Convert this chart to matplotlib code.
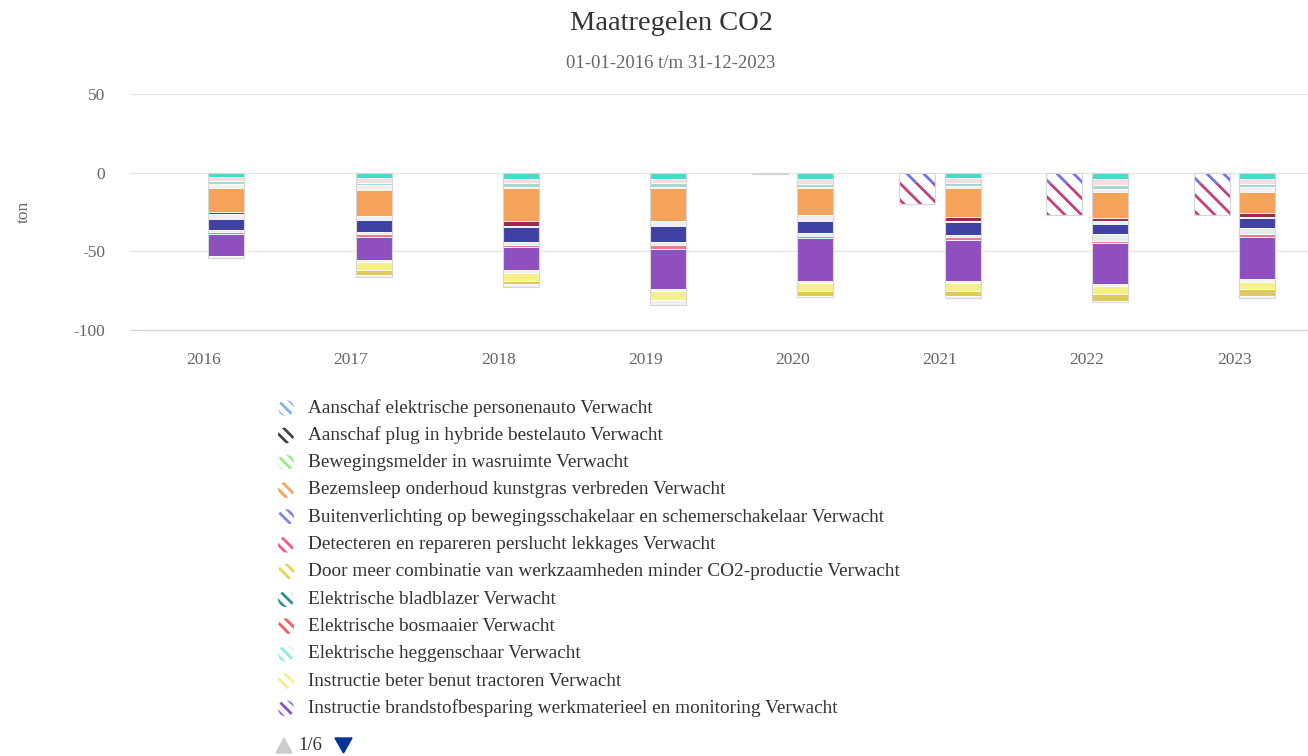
import numpy as np
import matplotlib.pyplot as plt
from matplotlib.patches import Circle, Polygon

plt.rcParams['font.family'] = ['Liberation Serif', 'DejaVu Serif']
plt.rcParams['hatch.linewidth'] = 2.0
plt.rcParams['axes.unicode_minus'] = False

years = ['2016', '2017', '2018', '2019', '2020', '2021', '2022', '2023']

# Verwacht (gearceerde stapel, links)
buitenverlichting_verwacht = [0, 0, 0, 0, -0.8, -6.5, -7.5, -7.0]
overig_verwacht = [0, 0, 0, 0, 0, -13.5, -19.5, -20.0]

# Gerealiseerd (volle stapel, rechts), van boven naar beneden
turkoois = [-3.0, -3.5, -3.8, -3.8, -3.8, -3.2, -3.8, -3.8]
licht_roze = [-2.5, -3.0, -2.6, -2.6, -3.2, -3.2, -3.8, -3.2]
licht_teal = [-1.5, -1.5, -2.5, -2.5, -1.9, -1.9, -2.6, -1.9]
licht_a = [-2.5, -3.2, -0.8, -0.6, -0.6, -1.2, -1.8, -3.1]
oranje = [-15.5, -16.1, -21.2, -21.0, -17.2, -18.5, -16.6, -13.4]
donkerrood = [-1.5, -0.3, -2.8, -0.4, -0.4, -2.5, -2.4, -2.6]
licht_b = [-2.7, -2.3, -0.6, -2.8, -3.4, -0.6, -1.4, -0.6]
blauw = [-7.0, -8.1, -9.5, -10.1, -7.6, -8.3, -6.4, -6.3]
licht_c = [-1.3, -0.8, -1.9, -1.9, -1.9, -1.3, -4.4, -3.9]
roze = [-1.5, -1.9, -1.3, -2.6, -1.3, -1.9, -1.3, -1.9]
paars = [-14.0, -14.6, -14.6, -25.4, -27.3, -26.0, -26.0, -26.6]
licht_d = [0, -1.2, -1.9, -1.3, -1.3, -1.3, -1.3, -1.9]
geel = [0, -5.1, -5.1, -5.7, -5.6, -5.1, -5.1, -4.5]
donkergeel = [0, -3.2, -1.9, -0.3, -2.6, -3.1, -4.4, -5.0]
licht_e = [-1.0, -1.2, -1.9, -2.9, -1.0, -1.3, -1.0, -0.7]

legend_names = [
    'Aanschaf elektrische personenauto Verwacht',
    'Aanschaf plug in hybride bestelauto Verwacht',
    'Bewegingsmelder in wasruimte Verwacht',
    'Bezemsleep onderhoud kunstgras verbreden Verwacht',
    'Buitenverlichting op bewegingsschakelaar en schemerschakelaar Verwacht',
    'Detecteren en repareren perslucht lekkages Verwacht',
    'Door meer combinatie van werkzaamheden minder CO2-productie Verwacht',
    'Elektrische bladblazer Verwacht',
    'Elektrische bosmaaier Verwacht',
    'Elektrische heggenschaar Verwacht',
    'Instructie beter benut tractoren Verwacht',
    'Instructie brandstofbesparing werkmaterieel en monitoring Verwacht',
]
legend_colors = ['#7cb5ec', '#434348', '#90ed7d', '#f7a35c', '#8085e9', '#f15c80',
                 '#e4d354', '#2b908f', '#f45b5b', '#91e8e1', '#f2ee8a', '#8d4fc6']

solid_series = [
    (turkoois, '#3ddfc6'), (licht_roze, '#f6dde3'), (licht_teal, '#a6d8d1'),
    (licht_a, '#f1eff0'), (oranje, '#f5a35b'), (donkerrood, '#9b2b48'),
    (licht_b, '#efeef0'), (blauw, '#3f41a3'), (licht_c, '#e6eceb'),
    (roze, '#ef7b93'), (paars, '#8f4fbf'), (licht_d, '#f1f0ee'),
    (geel, '#f6f08a'), (donkergeel, '#dfc95a'), (licht_e, '#efefef'),
]
hatched_series = [(buitenverlichting_verwacht, '#7075e0'), (overig_verwacht, '#c3407f')]

fig = plt.figure(figsize=(13.08, 7.56), dpi=100)
ax = fig.add_axes([130 / 1308, 1 - 330 / 756, 1178 / 1308, 236 / 756])

x = np.arange(len(years))
w = 0.245
off = 0.155

# volle stapel
bottom = np.zeros(len(years))
for vals, col in solid_series:
    v = np.array(vals)
    ax.bar(x + off, v, w, bottom=bottom, color=col, edgecolor='white', linewidth=0.6, zorder=3)
    bottom += v
ax.bar(x + off, bottom, w, fill=False, edgecolor='#d6d6d6', linewidth=0.8, zorder=4)

# gearceerde stapel
bottom = np.zeros(len(years))
for vals, col in hatched_series:
    v = np.array(vals)
    ax.bar(x - off, v, w, bottom=bottom, facecolor='white', edgecolor=col, hatch='\\\\',
           linewidth=0, zorder=3)
    bottom += v
has = bottom != 0
ax.bar(x[has] - off, bottom[has], w, fill=False, edgecolor='#d6d6d6', linewidth=0.8, zorder=4)

ax.set_xlim(-0.5, len(years) - 0.5)
ax.set_ylim(-100, 50)
ax.set_yticks([-100, -50, 0, 50])
ax.set_xticks(x)
ax.set_xticklabels(years)
ax.grid(axis='y', color='#e6e6e6', linewidth=1, zorder=0)
for s in ['top', 'right', 'left']:
    ax.spines[s].set_visible(False)
ax.spines['bottom'].set_color('#ccd6eb')
ax.tick_params(axis='both', length=0, labelsize=12.5, labelcolor='#666666')
ax.tick_params(axis='x', pad=16)
ax.tick_params(axis='y', pad=18)
ax.set_ylabel('ton', fontsize=12.5, color='#666666', labelpad=30)

fig.text(671 / 1308, 1 - 23 / 756, 'Maatregelen CO2', ha='center', va='center', fontsize=20.5,
         color='#333333')
fig.text(671 / 1308, 1 - 63 / 756, '01-01-2016 t/m 31-12-2023', ha='center', va='center',
         fontsize=13.5, color='#666666')

# legenda (pagina 1/6)
lg = fig.add_axes([0, 0, 1, 1])
lg.set_xlim(0, 1308)
lg.set_ylim(756, 0)
lg.axis('off')
row_h = 27.3
y0 = 408
for i, (name, col) in enumerate(zip(legend_names, legend_colors)):
    yy = y0 + i * row_h
    lg.add_patch(Circle((286, yy), 8, facecolor='white', edgecolor=col, hatch='\\\\\\', linewidth=0))
    lg.text(308, yy, name, ha='left', va='center', fontsize=13.9, color='#333333')
# afgesneden 13e item
clip = lg.add_patch(Polygon([(270, 700), (900, 700), (900, 724), (270, 724)], closed=True,
                            facecolor='none', edgecolor='none'))
c13 = Circle((286, y0 + 12 * row_h), 8, facecolor='white', edgecolor='#3cb371', hatch='\\\\\\', linewidth=0)
lg.add_patch(c13)
c13.set_clip_path(clip)

lg.add_patch(Polygon([(276, 753), (292, 753), (284, 738)], closed=True, color='#cccccc'))
lg.text(298, 746, '1/6', ha='left', va='center', fontsize=13.5, color='#333333')
lg.add_patch(Polygon([(335, 738), (352, 738), (343.5, 753)], closed=True, color='#003399'))

fig.savefig('out.png', dpi=100)
